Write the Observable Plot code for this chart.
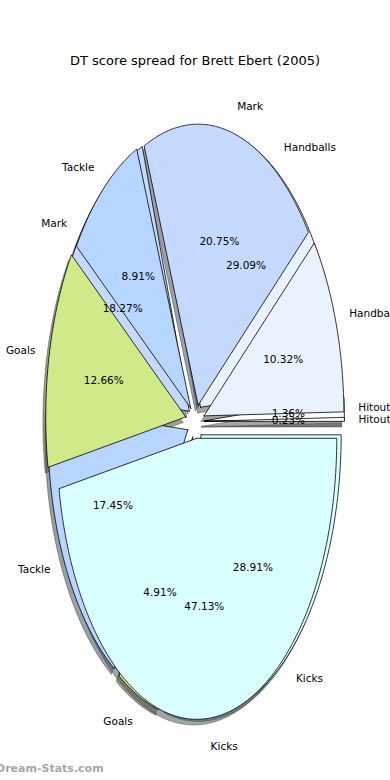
<!DOCTYPE html>
<html><head><meta charset="utf-8">
<script src="https://cdn.jsdelivr.net/npm/d3@7"></script>
<script src="https://cdn.jsdelivr.net/npm/@observablehq/plot@0.6"></script>
<style>
html,body{margin:0;padding:0;background:#fff;overflow:hidden;}
#wrap{position:relative;width:390px;height:780px;font-family:"DejaVu Sans",sans-serif;overflow:hidden;}
#title{position:absolute;left:0;top:53px;width:390px;text-align:center;font-size:13px;line-height:16px;color:#000;z-index:2}
#credit{position:absolute;left:-4px;top:762px;font-size:11px;font-weight:bold;color:#a6a6a6;line-height:14px;z-index:2;white-space:nowrap}
#chart{position:absolute;left:0;top:0}
</style></head><body>
<div id="wrap"><div id="chart"></div><div id="title">DT score spread for Brett Ebert (2005)</div><div id="credit">Dream-Stats.com</div></div>
<script>
// categories in pie order (counter-clockwise from 3 o'clock)
const categories = ["Hitout", "Handballs", "Mark", "Tackle", "Goals", "Kicks"];
// front pie values (%)
const frontValues = [0.23, 10.32, 20.75, 8.91, 12.66, 47.13];
// back pie values (%)
const backValues = [1.36, 29.09, 18.27, 17.45, 4.91, 28.91];
// styling
const sliceColors = ["#fafcff", "#eaf1ff", "#c5d9ff", "#b6d6ff", "#d0ea8a", "#d9ffff"];
const frontExplode = [0.06, 0.06, 0.06, 0.06, 0.075, 0.06];
const backExplode = [0.06, 0.06, 0.06, 0.065, 0.06, 0.06];
const shadowShift = 0.02;

function buildWedges(values, explode, pie) {
  const total = d3.sum(values);
  let cum = 0;
  return values.map((v, i) => {
    const t1 = 360 * cum / total; cum += v; const t2 = 360 * cum / total;
    const tm = (t1 + t2) / 2 * Math.PI / 180;
    const ox = explode[i] * Math.cos(tm), oy = explode[i] * Math.sin(tm);
    const pts = [{x: ox, y: oy}];
    const n = Math.max(2, Math.ceil((t2 - t1) / 0.5));
    for (let k = 0; k <= n; k++) {
      const a = (t1 + (t2 - t1) * k / n) * Math.PI / 180;
      pts.push({x: ox + Math.cos(a), y: oy + Math.sin(a)});
    }
    pts.push({x: ox, y: oy});
    const c = d3.rgb(sliceColors[i]);
    const shadowColor = d3.rgb(c.r * 0.3, c.g * 0.3, c.b * 0.3).formatHex();
    return {
      pie, cat: categories[i], value: v, color: sliceColors[i], shadowColor,
      pts, shadow: pts.map(p => ({x: p.x - shadowShift, y: p.y - shadowShift})),
      lx: ox + 1.1 * Math.cos(tm), ly: oy + 1.1 * Math.sin(tm),
      px: ox + 0.6 * Math.cos(tm), py: oy + 0.6 * Math.sin(tm),
      pct: v.toFixed(2) + "%"
    };
  });
}

const back = buildWedges(backValues, backExplode, "back");
const front = buildWedges(frontValues, frontExplode, "front");
const all = [...back, ...front];

const cx = 195.5, cy = 421, rx = 140, ry = 281, W = 390, H = 780;
const marks = [];
for (const w of all) {
  marks.push(Plot.line(w.shadow, {x: "x", y: "y", fill: w.shadowColor, fillOpacity: 0.5, stroke: w.shadowColor, strokeOpacity: 0.5, strokeWidth: 1, curve: "linear"}));
}
for (const w of all) {
  marks.push(Plot.line(w.pts, {x: "x", y: "y", fill: w.color, stroke: "black", strokeWidth: 0.8, curve: "linear", strokeLinejoin: "miter"}));
}
const textStyle = {fontSize: 10.5, fontFamily: "DejaVu Sans", fill: "black"};
marks.push(Plot.text(all.filter(d => d.lx > 0), {x: "lx", y: "ly", text: "cat", textAnchor: "start", ...textStyle}));
marks.push(Plot.text(all.filter(d => d.lx <= 0), {x: "lx", y: "ly", text: "cat", textAnchor: "end", ...textStyle}));
marks.push(Plot.text(all, {x: "px", y: "py", text: "pct", textAnchor: "middle", ...textStyle}));

const chart = Plot.plot({
  width: W, height: H, margin: 0,
  x: {domain: [-cx / rx, (W - cx) / rx], axis: null},
  y: {domain: [(cy - H) / ry, cy / ry], axis: null},
  style: {background: "white", overflow: "hidden"},
  marks
});
document.getElementById("chart").appendChild(chart);
</script>
</body></html>
